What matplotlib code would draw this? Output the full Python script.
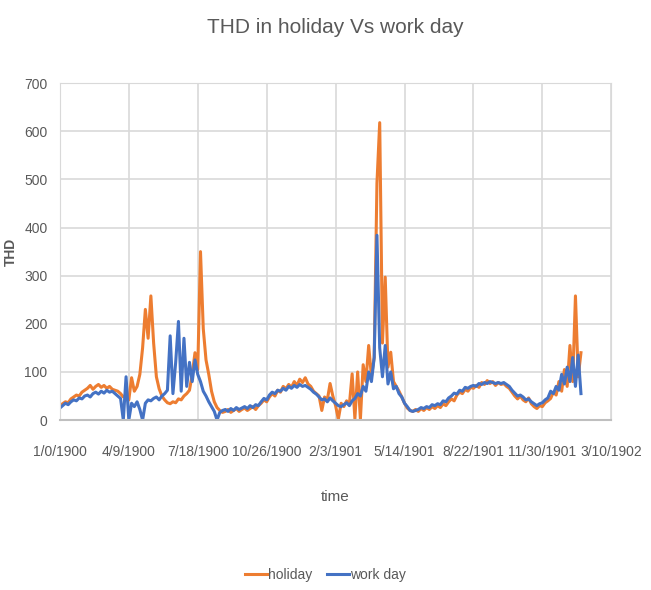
import numpy as np
import matplotlib.pyplot as plt
from matplotlib.ticker import FixedLocator

# sampled every 4 days, Excel serial day numbers starting at 0
day_step = 4
holiday = [
    30, 34, 38, 36, 44, 48, 52, 50, 58, 62,
    66, 72, 64, 70, 74, 68, 72, 66, 70, 64,
    62, 60, 55, 48, 52, 42, 88, 60, 70, 95,
    150, 230, 170, 258, 160, 90, 65, 50, 42, 36,
    34, 38, 36, 44, 42, 50, 55, 62, 95, 140,
    105, 350, 190, 125, 95, 60, 38, 26, 20, 16,
    18, 22, 16, 20, 24, 18, 22, 25, 20, 24,
    28, 22, 30, 35, 42, 38, 48, 55, 50, 62,
    58, 70, 65, 74, 68, 80, 72, 85, 78, 88,
    75, 70, 60, 55, 50, 20, 48, 42, 76, 50,
    30, 2, 35, 28, 40, 32, 96, 3, 100, 2,
    115, 80, 155, 90, 130, 492, 618, 160, 297, 110,
    141, 80, 70, 60, 48, 35, 25, 20, 18, 22,
    18, 24, 20, 26, 22, 28, 24, 30, 26, 34,
    30, 38, 44, 40, 52, 58, 55, 64, 60, 68,
    66, 72, 68, 78, 74, 82, 76, 80, 72, 78,
    74, 76, 70, 66, 58, 50, 44, 50, 42, 38,
    46, 34, 28, 24, 30, 28, 36, 40, 45, 58,
    52, 80, 60, 105, 70, 155, 80, 258, 90, 140,
]
work_day = [
    25, 30, 35, 32, 38, 42, 40, 46, 44, 50,
    52, 48, 55, 58, 54, 60, 56, 62, 58, 60,
    55, 50, 45, 0, 90, 0, 35, 28, 38, 22,
    0, 35, 42, 40, 45, 48, 42, 50, 55, 62,
    175, 55, 120, 205, 60, 170, 70, 120, 80, 125,
    95, 80, 60, 50, 38, 28, 18, 0, 16, 20,
    22, 18, 24, 20, 26, 22, 25, 28, 24, 30,
    26, 32, 30, 38, 45, 42, 52, 58, 55, 62,
    60, 66, 62, 70, 66, 72, 68, 74, 70, 72,
    68, 64, 58, 54, 48, 42, 44, 38, 46, 40,
    35, 30, 28, 32, 36, 30, 40, 45, 55, 50,
    70, 60, 100, 80, 130, 384, 150, 90, 155, 75,
    100, 65, 70, 55, 48, 35, 28, 20, 18, 20,
    22, 26, 24, 28, 26, 32, 30, 34, 32, 40,
    38, 46, 50, 56, 54, 62, 60, 68, 66, 70,
    72, 70, 76, 74, 78, 76, 80, 78, 76, 78,
    76, 78, 74, 70, 62, 56, 50, 52, 48, 42,
    44, 38, 34, 30, 34, 36, 42, 46, 60, 55,
    70, 62, 95, 75, 110, 80, 130, 70, 135, 55,
]
days = np.arange(len(holiday)) * day_step

x_ticks = [0, 100, 200, 300, 400, 500, 600, 700, 800]
x_labels = ["1/0/1900", "4/9/1900", "7/18/1900", "10/26/1900", "2/3/1901",
            "5/14/1901", "8/22/1901", "11/30/1901", "3/10/1902"]
y_ticks = [0, 100, 200, 300, 400, 500, 600, 700]

plt.rcParams['font.family'] = ['Liberation Sans', 'DejaVu Sans']
text_col = "#595959"

fig = plt.figure(figsize=(6.51, 5.90), dpi=100)
ax = fig.add_axes([0.092, 0.288, 0.847, 0.571])

ax.plot(days, holiday, color="#ED7D31", lw=2.2, label="holiday")
ax.plot(days, work_day, color="#4472C4", lw=2.2, label="work day")

ax.set_xlim(0, 800)
ax.set_ylim(0, 700)
ax.xaxis.set_major_locator(FixedLocator(x_ticks))
ax.set_xticklabels(x_labels)
ax.set_yticks(y_ticks)
ax.grid(True, color="#d9d9d9", lw=1.2)
ax.set_axisbelow(True)
ax.tick_params(length=0, colors=text_col, labelsize=10)
ax.tick_params(axis="x", pad=18)
ax.tick_params(axis="y", pad=9)
for side in ["top", "right", "left"]:
    ax.spines[side].set_color("#d9d9d9")
ax.spines["bottom"].set_color("#bfbfbf")
ax.spines["bottom"].set_linewidth(1.5)

ax.set_title("THD in holiday Vs work day", fontsize=15, color=text_col, pad=36)
ax.set_xlabel("time", fontsize=11, color=text_col, labelpad=22)
ax.set_ylabel("THD", fontsize=10, color=text_col, fontweight="bold")
ax.yaxis.set_label_coords(-0.076, 0.5)

fig.legend(loc="center", bbox_to_anchor=(0.5, 0.025), ncol=2, frameon=False,
           fontsize=10, labelcolor=text_col, handlelength=1.6, handletextpad=0.1,
           columnspacing=1.0)

fig.savefig("out.png", dpi=100)
